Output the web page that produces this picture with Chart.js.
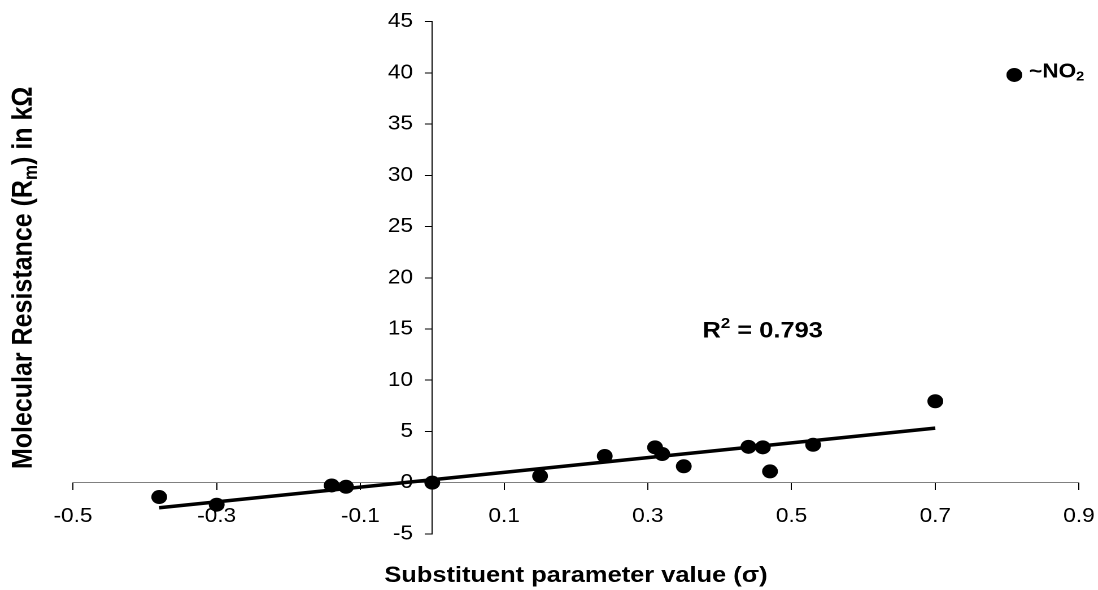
<!DOCTYPE html>
<html>
<head>
<meta charset="utf-8">
<script src="https://cdn.jsdelivr.net/npm/chart.js@4.4.1/dist/chart.umd.min.js"></script>
<style>
html, body { margin: 0; padding: 0; background: #fff; overflow: hidden; }
#resistanceChart { display: block; transform: scaleX(1.1296); transform-origin: 0 0; }
</style>
</head>
<body>
<canvas id="resistanceChart" width="972" height="590"></canvas>
<script>
// Hammett sigma vs molecular resistance (kOhm)
const sigma = [-0.38, -0.30, -0.14, -0.12, 0, 0.15, 0.24, 0.31, 0.32, 0.35, 0.44, 0.46, 0.47, 0.53, 0.70];
const resistance = [-1.4, -2.15, -0.27, -0.4, 0, 0.65, 2.6, 3.45, 2.8, 1.6, 3.5, 3.45, 1.1, 3.7, 7.95];

// nitro substituent, kept out of the fit
const outlierSigma = [0.81];
const outlierResistance = [39.8];

// linear trendline end points
const fitSigma = [-0.38, 0.70];
const fitResistance = [-2.45, 5.33];
const rSquared = '0.793';

const xMin = -0.5, xMax = 0.9, xStep = 0.2;
const yMin = -5, yMax = 45, yStep = 5;

const FONT = "'Liberation Sans', Arial, sans-serif";

function toPoints(xs, ys) {
    return xs.map((x, i) => ({ x: x, y: ys[i] }));
}

// draws bold text pieces one after another, some raised or lowered
function drawRuns(c, runs, x, y, align) {
    let total = 0;
    runs.forEach(r => {
        c.font = `bold ${r.size}px ${FONT}`;
        r.w = c.measureText(r.text).width;
        total += r.w;
    });
    let cx = align === 'center' ? x - total / 2 : x;
    c.textAlign = 'left';
    runs.forEach(r => {
        c.font = `bold ${r.size}px ${FONT}`;
        c.fillText(r.text, cx, y + (r.dy || 0));
        cx += r.w;
    });
}

// no label overhang padding, the chart area is set by layout.padding alone
function noOverhang(scale) {
    scale.paddingLeft = 0;
    scale.paddingRight = 0;
    scale.paddingTop = 0;
    scale.paddingBottom = 0;
}

const chartText = {
    id: 'chartText',
    afterDraw(chart) {
        const c = chart.ctx;
        const area = chart.chartArea;
        const xs = chart.scales.x;
        const ys = chart.scales.y;
        c.save();
        c.fillStyle = '#000';
        c.textBaseline = 'middle';

        // y tick labels sit left of the axis at sigma = 0
        const axisX = xs.getPixelForValue(0);
        c.font = `20px ${FONT}`;
        c.textAlign = 'right';
        ys.ticks.forEach(t => {
            c.fillText(String(t.value), axisX - 17, ys.getPixelForValue(t.value));
        });

        drawRuns(c, [{ text: 'Substituent parameter value (\u03c3)', size: 22.5 }],
            (area.left + area.right) / 2, 576, 'center');

        c.save();
        c.translate(21, (area.top + area.bottom) / 2);
        c.rotate(-Math.PI / 2);
        drawRuns(c, [
            { text: 'Molecular Resistance (R', size: 25 },
            { text: 'm', size: 17, dy: 7 },
            { text: ') in k\u03a9', size: 25 }
        ], 0, 0, 'center');
        c.restore();

        drawRuns(c, [
            { text: 'R', size: 22.5 },
            { text: '2', size: 15, dy: -7 },
            { text: ' = ' + rSquared, size: 22.5 }
        ], xs.getPixelForValue(0.376), ys.getPixelForValue(14.8), 'left');

        drawRuns(c, [
            { text: '~NO', size: 20 },
            { text: '2', size: 13, dy: 5 }
        ], xs.getPixelForValue(outlierSigma[0]) + 13, ys.getPixelForValue(outlierResistance[0]) - 3, 'left');

        c.restore();
    }
};

const ctx = document.getElementById('resistanceChart').getContext('2d');

const resistanceChart = new Chart(ctx, {
    type: 'scatter',
    data: {
        datasets: [
            {
                label: 'Substituents',
                data: toPoints(sigma, resistance),
                backgroundColor: '#000',
                borderWidth: 0,
                pointRadius: 7,
                pointHoverRadius: 7
            },
            {
                label: 'NO2',
                data: toPoints(outlierSigma, outlierResistance),
                backgroundColor: '#000',
                borderWidth: 0,
                pointRadius: 7,
                pointHoverRadius: 7
            },
            {
                type: 'line',
                label: 'Linear fit',
                data: toPoints(fitSigma, fitResistance),
                borderColor: '#000',
                borderWidth: 3.5,
                pointRadius: 0,
                fill: false
            }
        ]
    },
    options: {
        responsive: false,
        devicePixelRatio: 2,
        animation: false,
        layout: { padding: { left: 64.6, right: 16.8, top: 21.7, bottom: 56.1 } },
        plugins: {
            legend: { display: false },
            tooltip: { enabled: false }
        },
        scales: {
            x: {
                type: 'linear',
                position: { y: 0 },
                min: xMin,
                max: xMax,
                afterFit: noOverhang,
                ticks: {
                    stepSize: xStep,
                    callback: v => v.toFixed(1),
                    color: '#000',
                    font: { family: FONT, size: 20 },
                    padding: 15,
                    maxRotation: 0,
                    autoSkip: false
                },
                grid: { drawOnChartArea: false, drawTicks: true, tickLength: 7, color: '#000' },
                border: { color: '#808080', width: 1 }
            },
            y: {
                type: 'linear',
                position: { x: 0 },
                min: yMin,
                max: yMax,
                afterFit: noOverhang,
                ticks: {
                    stepSize: yStep,
                    display: false,
                    autoSkip: false
                },
                grid: { drawOnChartArea: false, drawTicks: true, tickLength: 6, color: '#000' },
                border: { color: '#000', width: 1 }
            }
        }
    },
    plugins: [chartText]
});
</script>
</body>
</html>
